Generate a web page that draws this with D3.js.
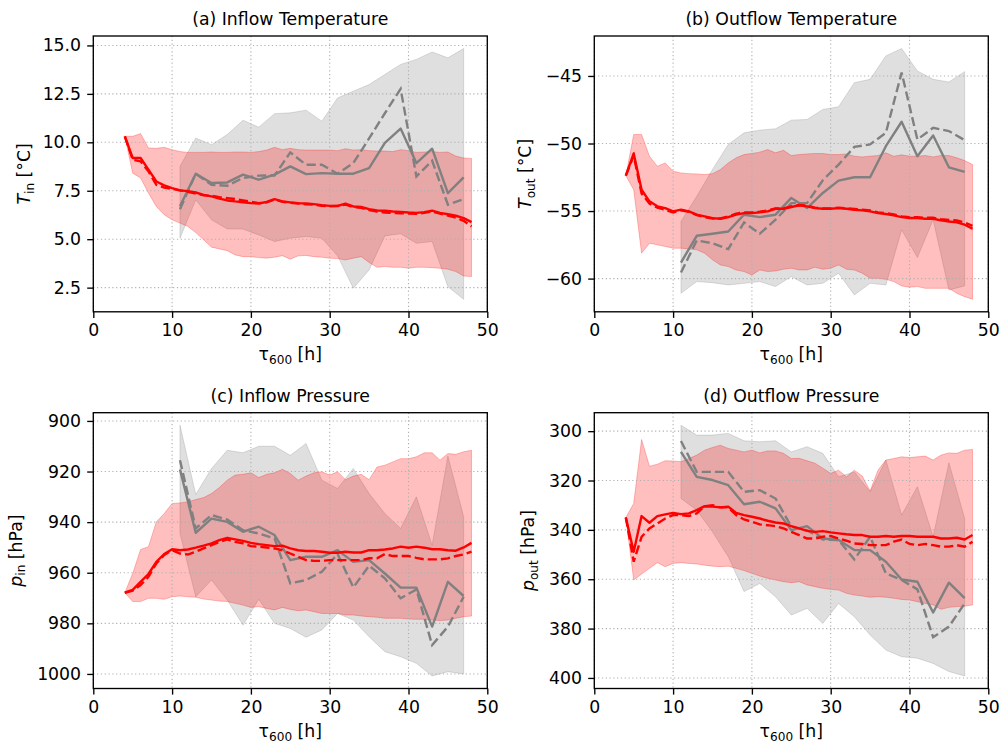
<!DOCTYPE html>
<html>
<head>
<meta charset="utf-8">
<script src="https://cdn.jsdelivr.net/npm/d3@7"></script>
<style>
  body { margin: 0; background: #fff; }
  svg text { font-family: "DejaVu Sans", sans-serif; fill: #000; }
</style>
</head>
<body>
<svg id="fig" width="1001" height="747"></svg>
<script>
// ---------------------------------------------------------------
// Hours since the 600 hPa time reference (tau_600)
// ---------------------------------------------------------------
const hoursAll = [4,5,6,7,8,9,10,11,12,13,14,15,16,17,18,19,20,21,22,23,24,25,26,
                  27,28,29,30,31,32,33,34,35,36,37,38,39,40,41,42,43,44,45,46,47,48];
const hoursSub = [11,13,15,17,19,21,23,25,27,29,31,33,35,37,39,41,43,45,47];

// ---------------- (a) inflow temperature [°C] ----------------
const tinAllMean   = [10.31,9.19,9.19,8.59,7.98,7.78,7.64,7.52,7.48,7.41,7.29,7.21,7.09,7.00,6.95,6.91,6.86,6.84,6.93,7.07,6.95,6.90,6.86,
                      6.84,6.81,6.76,6.72,6.72,6.83,6.69,6.66,6.55,6.48,6.47,6.43,6.41,6.38,6.36,6.40,6.47,6.36,6.29,6.21,6.09,5.88];
const tinAllMedian = [10.31,9.10,9.02,8.50,7.81,7.66,7.60,7.52,7.45,7.36,7.26,7.24,7.17,7.12,7.07,7.00,6.93,6.86,6.90,7.05,6.93,6.88,6.84,
                      6.80,6.78,6.72,6.70,6.71,6.79,6.66,6.62,6.50,6.42,6.38,6.36,6.34,6.33,6.31,6.36,6.43,6.32,6.22,6.12,5.95,5.66];
const tinAllLo     = [10.31,8.41,8.16,7.38,6.69,6.26,6.00,5.83,5.66,5.34,4.97,4.59,4.50,4.41,4.19,4.10,4.10,4.05,4.02,4.07,4.15,3.97,4.14,
                      4.16,4.10,4.07,4.02,4.00,3.93,4.02,4.10,3.80,3.55,3.59,3.55,3.55,3.50,3.55,3.55,3.53,3.50,3.45,3.33,3.10,3.07];
const tinAllHi     = [10.31,10.31,10.45,9.71,9.69,9.74,9.62,9.52,9.48,9.48,9.48,9.50,9.48,9.48,9.50,9.50,9.48,9.52,9.60,9.74,9.62,9.69,9.62,
                      9.60,9.60,9.60,9.60,9.57,9.67,9.60,9.62,9.57,9.55,9.55,9.52,9.62,9.57,9.48,9.50,9.52,9.48,9.50,9.29,9.19,9.17];
const tinSubMean   = [6.70,8.38,7.90,7.93,8.33,8.07,8.33,8.76,8.36,8.41,8.38,8.38,8.67,9.97,10.71,8.93,9.67,7.38,8.19];
const tinSubMedian = [6.55,8.38,7.81,7.76,8.16,8.28,8.29,9.48,8.84,8.84,8.38,8.93,10.20,11.50,12.76,8.24,9.05,6.78,7.07];
const tinSubLo     = [5.05,7.03,6.00,5.53,5.52,5.22,4.88,5.05,5.14,5.05,4.14,2.47,3.41,5.17,5.28,4.79,4.88,2.55,1.90];
const tinSubHi     = [8.76,10.22,9.88,10.40,11.14,10.78,11.48,11.52,11.66,11.09,12.29,12.64,12.98,13.50,14.02,14.28,14.66,14.36,14.84];

// ---------------- (b) outflow temperature [°C] ----------------
const toutAllMean   = [-52.38,-50.74,-53.42,-54.28,-54.65,-54.78,-55.02,-54.90,-55.02,-55.27,-55.40,-55.52,-55.57,-55.45,-55.27,-55.15,-55.15,
                       -55.10,-55.02,-54.83,-54.83,-54.70,-54.58,-54.65,-54.78,-54.83,-54.83,-54.78,-54.83,-54.90,-54.95,-55.02,-55.15,-55.22,
                       -55.32,-55.45,-55.52,-55.52,-55.57,-55.57,-55.69,-55.77,-55.84,-56.01,-56.31];
const toutAllMedian = [-52.38,-50.90,-53.70,-54.45,-54.75,-54.90,-55.10,-54.95,-55.05,-55.30,-55.45,-55.55,-55.55,-55.40,-55.20,-55.10,-55.10,
                       -55.05,-54.95,-54.80,-54.80,-54.65,-54.55,-54.60,-54.75,-54.80,-54.80,-54.75,-54.80,-54.85,-54.90,-54.95,-55.10,-55.15,
                       -55.25,-55.40,-55.45,-55.45,-55.50,-55.50,-55.60,-55.65,-55.70,-55.85,-56.09];
const toutAllLo     = [-52.38,-53.42,-58.12,-57.38,-57.50,-57.62,-57.75,-57.75,-57.80,-57.87,-58.12,-58.61,-58.99,-59.11,-59.36,-59.48,-59.73,
                       -59.36,-59.48,-59.43,-59.31,-59.23,-59.36,-59.36,-59.16,-59.31,-59.23,-58.99,-59.31,-59.36,-59.60,-59.98,-59.98,-60.05,
                       -60.22,-60.54,-60.64,-60.59,-60.72,-60.72,-60.72,-60.72,-61.09,-61.34,-61.53];
const toutAllHi     = [-52.38,-49.33,-49.33,-50.94,-51.68,-51.44,-52.05,-52.18,-52.23,-52.25,-52.30,-52.23,-51.93,-51.44,-51.06,-50.82,-50.74,
                       -50.64,-50.45,-50.69,-50.50,-50.89,-50.82,-50.77,-50.74,-50.74,-50.82,-50.82,-50.77,-50.94,-50.99,-50.94,-50.89,-50.69,
                       -50.94,-50.84,-50.94,-50.94,-50.89,-50.99,-50.89,-50.89,-51.06,-51.26,-51.56];
const toutSubMean   = [-58.81,-56.83,-56.68,-56.51,-55.27,-55.45,-55.27,-54.03,-54.78,-53.66,-52.75,-52.50,-52.50,-50.20,-48.39,-50.94,-49.41,-51.76,-52.10];
const toutSubMedian = [-59.55,-57.18,-57.38,-57.82,-55.84,-56.68,-55.64,-54.41,-54.41,-52.72,-51.56,-50.25,-50.07,-49.21,-44.75,-49.70,-48.84,-49.08,-49.75];
const toutSubLo     = [-61.09,-60.22,-60.30,-60.47,-60.35,-60.22,-60.59,-59.85,-60.47,-60.35,-59.60,-61.21,-60.35,-60.47,-56.39,-58.44,-55.64,-60.84,-60.54];
const toutSubHi     = [-55.77,-53.91,-51.93,-50.07,-49.21,-49.01,-48.91,-48.27,-48.22,-47.48,-47.28,-45.50,-45.25,-43.52,-42.97,-44.63,-45.25,-45.45,-44.68];

// ---------------- (c) inflow pressure [hPa] ----------------
const pinAllMean   = [967.9,966.8,963.6,960.5,955.7,952.6,950.7,951.1,950.8,950.1,949.3,948.4,947.1,946.2,946.8,947.4,948.2,948.7,949.1,949.5,
                      949.3,950.4,951.1,951.4,951.4,951.7,952.1,952.1,951.7,952.0,952.0,951.1,951.1,950.8,950.4,949.7,950.1,949.7,950.1,950.7,
                      950.7,951.1,951.3,950.0,948.2];
const pinAllMedian = [967.9,967.1,964.9,961.6,956.3,953.0,951.1,952.4,952.8,951.7,950.4,949.1,947.8,946.8,947.8,948.4,949.5,949.7,950.0,950.4,
                      951.1,952.4,953.7,955.0,955.3,955.3,955.0,955.0,955.0,955.0,955.0,954.3,954.3,952.6,953.4,953.4,953.4,954.1,954.7,954.7,
                      954.7,954.3,953.4,952.8,951.7];
const pinAllLo     = [967.9,960.3,950.8,949.7,939.9,936.6,932.6,932.4,932.0,931.1,930.3,928.7,926.3,923.4,921.4,921.1,920.5,922.4,921.1,920.5,
                      919.1,920.8,923.4,921.8,920.5,920.1,921.4,920.1,923.2,921.8,921.1,923.2,918.2,917.5,916.2,914.9,914.9,914.2,912.6,912.6,
                      915.5,912.9,913.2,912.2,911.6];
const pinAllHi     = [967.9,971.4,971.4,970.1,970.1,970.5,969.5,969.2,969.5,969.7,970.4,970.8,971.2,971.4,972.1,972.8,973.7,973.4,974.1,974.7,
                      973.7,974.5,975.0,974.7,975.4,976.1,976.1,976.1,976.7,976.7,977.1,977.4,977.6,978.0,978.0,978.0,978.3,978.4,978.4,978.7,
                      978.9,978.7,978.0,977.4,977.1];
const pinSubMean   = [919.2,944.2,938.6,939.9,943.8,941.8,945.1,955.0,953.7,953.7,951.1,955.7,955.0,960.3,965.9,965.9,981.3,963.6,969.2];
const pinSubMedian = [915.5,942.5,937.2,939.0,943.2,944.5,946.4,964.2,962.9,959.6,952.6,965.8,957.2,962.2,970.1,966.6,988.6,981.3,969.5];
const pinSubLo     = [901.7,929.1,918.8,911.6,912.6,910.0,910.0,913.6,908.9,923.4,926.7,918.8,928.7,936.6,942.5,930.0,949.1,913.9,937.9];
const pinSubHi     = [944.5,969.5,962.9,970.8,980.7,970.5,980.0,982.0,985.5,982.6,976.1,978.7,985.3,991.2,993.2,995.8,1000.8,999.1,1000.0];

// ---------------- (d) outflow pressure [hPa] ----------------
const poutAllMean   = [335.0,348.9,334.4,337.1,334.4,333.7,333.1,333.6,333.3,332.0,330.4,330.6,330.9,330.6,333.1,334.0,334.7,335.4,336.3,337.0,
                       337.4,338.5,339.4,340.4,340.8,340.5,341.0,341.4,341.8,342.1,342.1,342.8,342.8,342.5,342.8,342.5,342.5,342.8,342.8,342.8,
                       343.5,343.5,343.2,343.9,342.1];
const poutAllMedian = [335.0,352.9,342.8,339.4,337.4,335.4,334.0,334.0,334.4,333.3,330.4,330.0,330.9,330.9,334.0,335.8,336.7,337.8,338.1,338.5,
                       339.4,340.8,342.1,343.5,343.5,342.8,342.5,343.5,344.4,345.5,345.7,346.2,346.2,346.2,344.8,343.9,345.7,346.2,345.7,346.2,
                       346.8,346.8,346.2,346.8,344.8];
const poutAllLo     = [335.0,329.3,303.4,314.2,313.4,312.0,312.1,312.4,311.1,309.7,307.7,306.6,305.7,307.0,307.7,308.4,307.7,308.8,308.0,308.0,
                       309.0,311.1,311.0,312.0,313.0,315.0,317.1,315.8,318.5,315.8,318.2,324.2,315.8,311.7,311.1,310.4,310.7,310.4,310.1,311.7,
                       309.7,308.8,309.0,307.7,307.4];
const poutAllHi     = [335.0,360.3,357.9,355.6,353.3,354.9,353.6,353.3,353.6,353.8,354.3,354.7,354.9,354.7,355.6,356.5,357.6,358.7,359.6,360.3,
                       361.0,361.4,361.0,362.3,363.0,363.7,364.1,364.4,365.7,366.4,366.8,367.3,367.1,367.3,367.7,368.2,368.4,369.1,369.8,370.4,
                       372.2,371.4,371.1,370.9,370.4];
const poutSubMean   = [308.4,318.5,319.8,321.9,329.6,328.6,331.3,340.1,338.5,343.5,344.1,348.2,348.2,352.9,360.1,361.0,373.5,361.4,367.7];
const poutSubMedian = [304.0,316.5,316.5,316.5,324.6,323.9,327.3,338.7,340.1,343.9,344.1,352.0,342.8,357.6,360.3,364.1,383.5,379.2,369.8];
const poutSubLo     = [297.6,301.6,301.6,300.9,303.9,304.3,303.9,308.4,306.3,309.0,318.5,316.5,324.6,311.7,334.0,322.5,342.8,312.8,335.4];
const poutSubHi     = [327.3,332.0,340.8,350.9,365.0,361.7,367.1,374.5,371.8,377.9,369.8,375.2,382.6,388.7,391.4,392.0,394.1,397.4,399.2];

// Axis ticks
const xTicks    = [0, 10, 20, 30, 40, 50];
const tinTicks  = [2.5, 5.0, 7.5, 10.0, 12.5, 15.0];
const toutTicks = [-60, -55, -50, -45];
const pinTicks  = [900, 920, 940, 960, 980, 1000];
const poutTicks = [300, 320, 340, 360, 380, 400];

// ---------------------------------------------------------------
// Layout and styling
// ---------------------------------------------------------------
const FS = 17.3;          // base font size (px)
const SUB = 12.1;         // subscript font size
const LW = 2.4;           // line width for series
const DASH = "9.2,4.0";   // dashed-line pattern
const RED = "#ff0000";
const GREY = "#808080";

const panels = [
  { title: "(a) Inflow Temperature", left: 93.3, top: 36, ticks: tinTicks, fmt: d3.format(".1f"), reversed: false,
    sym: "T", sub: "in", unit: " [°C]", ylabX: 30,
    all: [tinAllMean, tinAllMedian, tinAllLo, tinAllHi], part: [tinSubMean, tinSubMedian, tinSubLo, tinSubHi] },
  { title: "(b) Outflow Temperature", left: 594.3, top: 36, ticks: toutTicks, fmt: d => d3.format("d")(d).replace("-", "\u2212"), reversed: false,
    sym: "T", sub: "out", unit: " [°C]", ylabX: 531,
    all: [toutAllMean, toutAllMedian, toutAllLo, toutAllHi], part: [toutSubMean, toutSubMedian, toutSubLo, toutSubHi] },
  { title: "(c) Inflow Pressure", left: 93.3, top: 412.7, ticks: pinTicks, fmt: d3.format("d"), reversed: true,
    sym: "p", sub: "in", unit: " [hPa]", ylabX: 21.5,
    all: [pinAllMean, pinAllMedian, pinAllLo, pinAllHi], part: [pinSubMean, pinSubMedian, pinSubLo, pinSubHi] },
  { title: "(d) Outflow Pressure", left: 594.3, top: 412.7, ticks: poutTicks, fmt: d3.format("d"), reversed: true,
    sym: "p", sub: "out", unit: " [hPa]", ylabX: 534,
    all: [poutAllMean, poutAllMedian, poutAllLo, poutAllHi], part: [poutSubMean, poutSubMedian, poutSubLo, poutSubHi] }
];
const W = 394, H = 275.8;

const svg = d3.select("#fig");

panels.forEach(p => {
  const g = svg.append("g").attr("transform", `translate(${p.left},${p.top})`);

  // y-limits: data range with a 5 % margin on both ends
  const vals = [].concat(...p.all, ...p.part);
  const lo = d3.min(vals), hi = d3.max(vals), pad = 0.05 * (hi - lo);
  const x = d3.scaleLinear().domain([0, 50]).range([0, W]);
  const y = d3.scaleLinear().domain([lo - pad, hi + pad]).range(p.reversed ? [0, H] : [H, 0]);

  const zipped = (hs, vs) => hs.map((h, i) => [h, vs[i]]);
  const band = (hs, a, b) => hs.map((h, i) => [h, a[i], b[i]]);

  const area = d3.area().x(d => x(d[0])).y0(d => y(d[1])).y1(d => y(d[2]));
  const line = d3.line().x(d => x(d[0])).y(d => y(d[1]));

  // spread envelopes
  g.append("path").datum(band(hoursSub, p.part[2], p.part[3])).attr("d", area)
    .attr("fill", "rgba(128,128,128,0.25)").attr("stroke", "rgba(128,128,128,0.25)").attr("stroke-width", 1);
  g.append("path").datum(band(hoursAll, p.all[2], p.all[3])).attr("d", area)
    .attr("fill", "rgba(255,0,0,0.25)").attr("stroke", "rgba(255,0,0,0.25)").attr("stroke-width", 1);

  // dotted grid
  const grid = g.append("g").attr("stroke", "#b0b0b0").attr("stroke-width", 1.1).attr("stroke-dasharray", "1.2,2.6");
  xTicks.forEach(t => grid.append("line").attr("x1", x(t)).attr("x2", x(t)).attr("y1", 0).attr("y2", H));
  p.ticks.forEach(t => grid.append("line").attr("x1", 0).attr("x2", W).attr("y1", y(t)).attr("y2", y(t)));

  // central tendency lines
  g.append("path").datum(zipped(hoursSub, p.part[0])).attr("d", line)
    .attr("fill", "none").attr("stroke", GREY).attr("stroke-width", LW).attr("stroke-linejoin", "round");
  g.append("path").datum(zipped(hoursSub, p.part[1])).attr("d", line)
    .attr("fill", "none").attr("stroke", GREY).attr("stroke-width", LW).attr("stroke-dasharray", DASH);
  g.append("path").datum(zipped(hoursAll, p.all[0])).attr("d", line)
    .attr("fill", "none").attr("stroke", RED).attr("stroke-width", LW).attr("stroke-linejoin", "round");
  g.append("path").datum(zipped(hoursAll, p.all[1])).attr("d", line)
    .attr("fill", "none").attr("stroke", RED).attr("stroke-width", LW).attr("stroke-dasharray", DASH);

  // frame
  g.append("rect").attr("width", W).attr("height", H).attr("fill", "none")
    .attr("stroke", "#000").attr("stroke-width", 1.35);

  // axes
  const xa = g.append("g").attr("transform", `translate(0,${H})`)
    .call(d3.axisBottom(x).tickValues(xTicks).tickFormat(d3.format("d")).tickSize(6.1).tickPadding(6.1));
  const ya = g.append("g")
    .call(d3.axisLeft(y).tickValues(p.ticks).tickFormat(p.fmt).tickSize(6.1).tickPadding(6.1));
  [xa, ya].forEach(a => {
    a.select(".domain").remove();
    a.selectAll(".tick line").attr("stroke", "#000").attr("stroke-width", 1.35);
    a.selectAll(".tick text").attr("font-size", FS).attr("font-family", "DejaVu Sans, sans-serif").attr("fill", "#000");
  });

  // title
  g.append("text").attr("x", W / 2).attr("y", -11).attr("text-anchor", "middle")
    .attr("font-size", FS).text(p.title);

  // x label: tau_600 [h]
  const xl = g.append("text").attr("x", W / 2).attr("y", H + 48.5).attr("text-anchor", "middle").attr("font-size", FS);
  xl.append("tspan").text("\u03c4");
  xl.append("tspan").attr("font-size", SUB).attr("dy", 3.6).text("600");
  xl.append("tspan").attr("dy", -3.6).text(" [h]");

  // y label
  const yl = svg.append("text")
    .attr("transform", `translate(${p.ylabX},${p.top + H / 2}) rotate(-90)`)
    .attr("text-anchor", "middle").attr("font-size", FS);
  yl.append("tspan").attr("font-style", "italic").text(p.sym);
  yl.append("tspan").attr("font-size", SUB).attr("dy", 3.6).text(p.sub);
  yl.append("tspan").attr("dy", -3.6).text(p.unit);
});
</script>
</body>
</html>
